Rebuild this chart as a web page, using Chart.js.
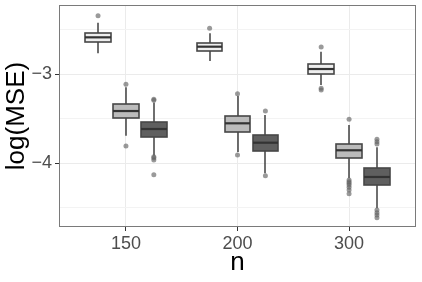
<!DOCTYPE html>
<html>
<head>
<meta charset="utf-8">
<script src="https://cdn.jsdelivr.net/npm/chart.js@4"></script>
<style>
  html, body { margin: 0; padding: 0; background: #fff; }
  canvas { display: block; }
</style>
</head>
<body>
<canvas id="chart" width="422" height="282"></canvas>
<script>
// Data
const categories = ['150', '200', '300'];
const yTickValues = [-4.5, -4, -3.5, -3, -2.5];
const yTickLabels = ['', '\u22124', '', '\u22123', ''];

// five-number boxes per category: [lower whisker, q1, median, q3, upper whisker]
const lightStats = [
    [-2.767, -2.637, -2.588, -2.543, -2.424],
    [-2.854, -2.738, -2.693, -2.648, -2.543],
    [-3.124, -2.997, -2.944, -2.891, -2.749]
];
const mediumStats = [
    [-3.693, -3.498, -3.416, -3.340, -3.150],
    [-3.876, -3.648, -3.554, -3.472, -3.247],
    [-4.172, -3.947, -3.857, -3.783, -3.573]
];
const darkStats = [
    [-3.918, -3.704, -3.618, -3.543, -3.320],
    [-4.116, -3.862, -3.772, -3.682, -3.460],
    [-4.509, -4.247, -4.157, -4.060, -3.824]
];

const lightOutliers = [
    [-2.345],
    [-2.487],
    [-2.697, -3.161, -3.180]
];
const mediumOutliers = [
    [-3.116, -3.809],
    [-3.221, -3.910],
    [-3.509, -4.191, -4.210, -4.228, -4.247, -4.273, -4.303, -4.345]
];
const darkOutliers = [
    [-3.284, -3.296, -3.929, -3.945, -3.966, -4.131],
    [-3.416, -4.143],
    [-3.734, -3.760, -3.787, -4.528, -4.558, -4.584, -4.614]
];

// Series setup (dodge offset within a category, fill colour)
const series = [
    { stats: lightStats, outliers: lightOutliers, offset: -0.25, fill: '#eeeeee' },
    { stats: mediumStats, outliers: mediumOutliers, offset: 0, fill: '#bbbbbb' },
    { stats: darkStats, outliers: darkOutliers, offset: 0.25, fill: '#5f5f5f' }
];
const boxWidth = 0.23;

// Outlier points as scatter datasets
const datasets = series.map(s => {
    const pts = [];
    s.outliers.forEach((list, i) => {
        list.forEach(v => pts.push({ x: i + 1 + s.offset, y: v }));
    });
    return {
        type: 'scatter',
        data: pts,
        pointRadius: 2.5,
        pointHoverRadius: 2.5,
        pointBorderWidth: 0,
        pointBackgroundColor: 'rgba(100, 100, 100, 0.65)'
    };
});

// Box plot drawing
const boxPlugin = {
    id: 'boxes',
    beforeDatasetsDraw(chart) {
        const ctx = chart.ctx;
        const xs = chart.scales.x;
        const ys = chart.scales.y;
        ctx.save();
        series.forEach(s => {
            s.stats.forEach((st, i) => {
                const cx = xs.getPixelForValue(i + 1 + s.offset);
                const x0 = Math.round(xs.getPixelForValue(i + 1 + s.offset - boxWidth / 2));
                const x1 = Math.round(xs.getPixelForValue(i + 1 + s.offset + boxWidth / 2));
                const yLow = ys.getPixelForValue(st[0]);
                const yQ1 = Math.round(ys.getPixelForValue(st[1]));
                const yMed = ys.getPixelForValue(st[2]);
                const yQ3 = Math.round(ys.getPixelForValue(st[3]));
                const yHigh = ys.getPixelForValue(st[4]);
                const wx = Math.round(cx);

                // whiskers
                ctx.strokeStyle = '#333333';
                ctx.lineWidth = 1.4;
                ctx.beginPath();
                ctx.moveTo(wx, yHigh);
                ctx.lineTo(wx, yQ3);
                ctx.moveTo(wx, yQ1);
                ctx.lineTo(wx, yLow);
                ctx.stroke();

                // box
                ctx.fillStyle = s.fill;
                ctx.fillRect(x0, yQ3, x1 - x0, yQ1 - yQ3);
                ctx.strokeStyle = '#474747';
                ctx.lineWidth = 1.6;
                ctx.strokeRect(x0, yQ3, x1 - x0, yQ1 - yQ3);

                // median
                ctx.strokeStyle = '#333333';
                ctx.lineWidth = 2.2;
                ctx.beginPath();
                ctx.moveTo(x0, yMed);
                ctx.lineTo(x1, yMed);
                ctx.stroke();
            });
        });
        ctx.restore();
    },
    afterDraw(chart) {
        const a = chart.chartArea;
        const ctx = chart.ctx;
        ctx.save();
        ctx.strokeStyle = '#7a7a7a';
        ctx.lineWidth = 1;
        ctx.strokeRect(Math.round(a.left) + 0.5, Math.round(a.top) + 0.5,
            Math.round(a.right - a.left) - 1, Math.round(a.bottom - a.top) - 1);
        ctx.restore();
    }
};

const tickFont = { family: 'Liberation Sans, Arial, sans-serif', size: 18 };
const titleFont = { family: 'Liberation Sans, Arial, sans-serif', size: 26 };

new Chart(document.getElementById('chart'), {
    type: 'scatter',
    data: { datasets: datasets },
    plugins: [boxPlugin],
    options: {
        responsive: false,
        animation: false,
        devicePixelRatio: 1,
        layout: { padding: { top: 5, right: 6, left: 0, bottom: 0 } },
        plugins: {
            legend: { display: false },
            tooltip: { enabled: false }
        },
        scales: {
            x: {
                type: 'linear',
                min: 0.4,
                max: 3.6,
                afterBuildTicks(scale) {
                    scale.ticks = categories.map((c, i) => ({ value: i + 1 }));
                },
                afterFit(scale) {
                    scale.height = 55;
                    scale.paddingLeft = 0;
                    scale.paddingRight = 0;
                },
                ticks: {
                    autoSkip: false,
                    maxRotation: 0,
                    padding: 2,
                    color: '#4d4d4d',
                    font: tickFont,
                    callback: v => categories[Math.round(v) - 1]
                },
                grid: {
                    color: '#ebebeb',
                    lineWidth: 1,
                    tickLength: 4,
                    tickColor: '#333333'
                },
                border: { display: false },
                title: {
                    display: true,
                    text: 'n',
                    color: '#000',
                    font: titleFont,
                    padding: { top: 0, bottom: 4 }
                }
            },
            y: {
                min: -4.719,
                max: -2.2247,
                afterBuildTicks(scale) {
                    scale.ticks = yTickValues.map(v => ({ value: v }));
                },
                afterFit(scale) {
                    scale.width = 59;
                    scale.paddingTop = 0;
                    scale.paddingBottom = 0;
                },
                ticks: {
                    autoSkip: false,
                    padding: 3,
                    color: '#4d4d4d',
                    font: tickFont,
                    callback: (v, i) => yTickLabels[i]
                },
                grid: {
                    color: ctx => (yTickLabels[ctx.index] ? '#ebebeb' : '#f3f3f3'),
                    lineWidth: 1,
                    tickLength: 4,
                    tickColor: ctx => (yTickLabels[ctx.index] ? '#333333' : 'rgba(0,0,0,0)')
                },
                border: { display: false },
                title: {
                    display: true,
                    text: 'log(MSE)',
                    color: '#000',
                    font: titleFont,
                    padding: { top: 1, bottom: 0 }
                }
            }
        }
    }
});
</script>
</body>
</html>
